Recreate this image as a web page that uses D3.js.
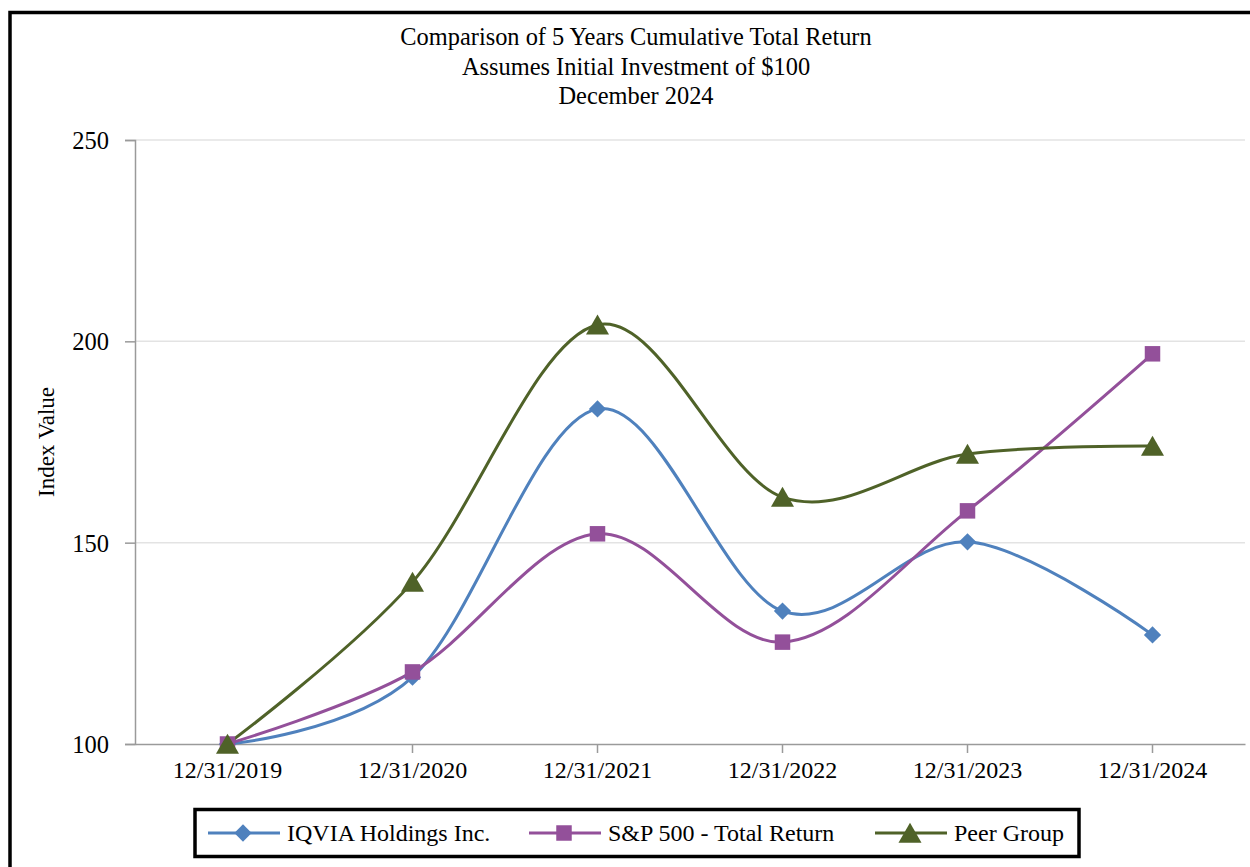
<!DOCTYPE html>
<html><head><meta charset="utf-8">
<script src="https://cdn.jsdelivr.net/npm/d3@7"></script>
<style>body{margin:0;background:#fff}svg{display:block}svg text{font-family:"Liberation Serif","Times New Roman",serif !important;fill:#000}</style>
</head><body><svg id="c" width="1250" height="867"></svg>
<script>
const categories = ["12/31/2019","12/31/2020","12/31/2021","12/31/2022","12/31/2023","12/31/2024"];
const iqvia = [100, 116.6, 183.2, 133.0, 150.2, 127.1];
const sp500 = [100, 117.9, 152.2, 125.3, 157.9, 196.9];
const peer  = [100, 140.2, 204.1, 161.3, 172.0, 174.0];
const yTicks = [100, 150, 200, 250];
const titleLines = ["Comparison of 5 Years Cumulative Total Return","Assumes Initial Investment of $100","December 2024"];
const seriesNames = ["IQVIA Holdings Inc.","S&P 500 - Total Return","Peer Group"];

const colors = ["#4F81BD","#93509A","#4F6228"];
const shapes = [d3.symbolDiamond2, d3.symbolSquare, d3.symbolTriangle];
const series = [iqvia, sp500, peer];
const FONT = "'Liberation Serif','Times New Roman',serif";

const svg = d3.select("#c");
// outer frame
svg.append("rect").attr("x",10).attr("y",12.5).attr("width",1300).attr("height",900)
  .attr("fill","none").attr("stroke","#000").attr("stroke-width",3.5);

const m = {l:135, r:1245, t:140, b:744};
const x = d3.scaleBand().domain(categories).range([m.l, m.r]);
const y = d3.scaleLinear().domain([100,250]).range([m.b, m.t]);

// title
svg.append("g").selectAll("text").data(titleLines).join("text")
  .attr("x",636).attr("y",(d,i)=>45+i*29.5).attr("text-anchor","middle")
  .style("font-family",FONT).style("font-size","24.4px").text(d=>d);

// gridlines
svg.append("g").selectAll("line").data(yTicks.filter(v=>v>100)).join("line")
  .attr("x1",m.l).attr("x2",m.r).attr("y1",d=>y(d)).attr("y2",d=>y(d))
  .attr("stroke","#e3e3e3").attr("stroke-width",1.5);

// y axis
const ya = svg.append("g").attr("transform",`translate(${m.l},0)`)
  .call(d3.axisLeft(y).tickValues(yTicks).tickSize(10).tickPadding(16));
ya.attr("font-family",null).attr("font-size",null);
ya.select(".domain").attr("stroke","#9a9a9a").attr("stroke-width",1.5);
ya.selectAll(".tick line").attr("stroke","#9a9a9a").attr("stroke-width",1.5);
ya.selectAll("text").style("font-family",FONT).style("font-size","24.5px").attr("dy","0.35em");

// x axis
const xa = svg.append("g").attr("transform",`translate(0,${m.b})`)
  .call(d3.axisBottom(x).tickSize(9).tickPadding(8).tickSizeOuter(0));
xa.attr("font-family",null).attr("font-size",null);
xa.select(".domain").attr("stroke","#9a9a9a").attr("stroke-width",1.5);
xa.selectAll(".tick line").attr("stroke","#9a9a9a").attr("stroke-width",1.5);
xa.selectAll("text").style("font-family",FONT).style("font-size","24px");

// y label
svg.append("text").attr("transform",`translate(54,${(m.t+m.b)/2}) rotate(-90)`)
  .attr("text-anchor","middle").style("font-family",FONT).style("font-size","23px").text("Index Value");

const cx = c => x(c) + x.bandwidth()/2;
const line = d3.line().x((d,i)=>cx(categories[i])).y(d=>y(d)).curve(d3.curveCardinal.tension(0));

series.forEach((s,k)=>{
  svg.append("path").datum(s).attr("d",line).attr("fill","none")
    .attr("stroke",colors[k]).attr("stroke-width",3);
});
const sizes = [190, 240, 230];
const dyOff = [0, 0, 3];
series.forEach((s,k)=>{
  svg.append("g").selectAll("path").data(s).join("path")
    .attr("transform",(d,i)=>`translate(${cx(categories[i])},${y(d)+dyOff[k]})`)
    .attr("d",d3.symbol(shapes[k], sizes[k])).attr("fill",colors[k]);
});

// legend
const lg = svg.append("g");
lg.append("rect").attr("x",195).attr("y",809.5).attr("width",884).attr("height",47)
  .attr("fill","#fff").attr("stroke","#000").attr("stroke-width",3.5);
const lx = [208, 529, 875];
seriesNames.forEach((n,k)=>{
  const g = lg.append("g").attr("transform",`translate(${lx[k]},833)`);
  g.append("line").attr("x1",0).attr("x2",72).attr("stroke",colors[k]).attr("stroke-width",3);
  g.append("path").attr("transform",`translate(35,${dyOff[k]})`).attr("d",d3.symbol(shapes[k], sizes[k])).attr("fill",colors[k]);
  g.append("text").attr("x",79).attr("dy","0.35em").style("font-family",FONT).style("font-size","24px").text(n);
});
</script></body></html>
